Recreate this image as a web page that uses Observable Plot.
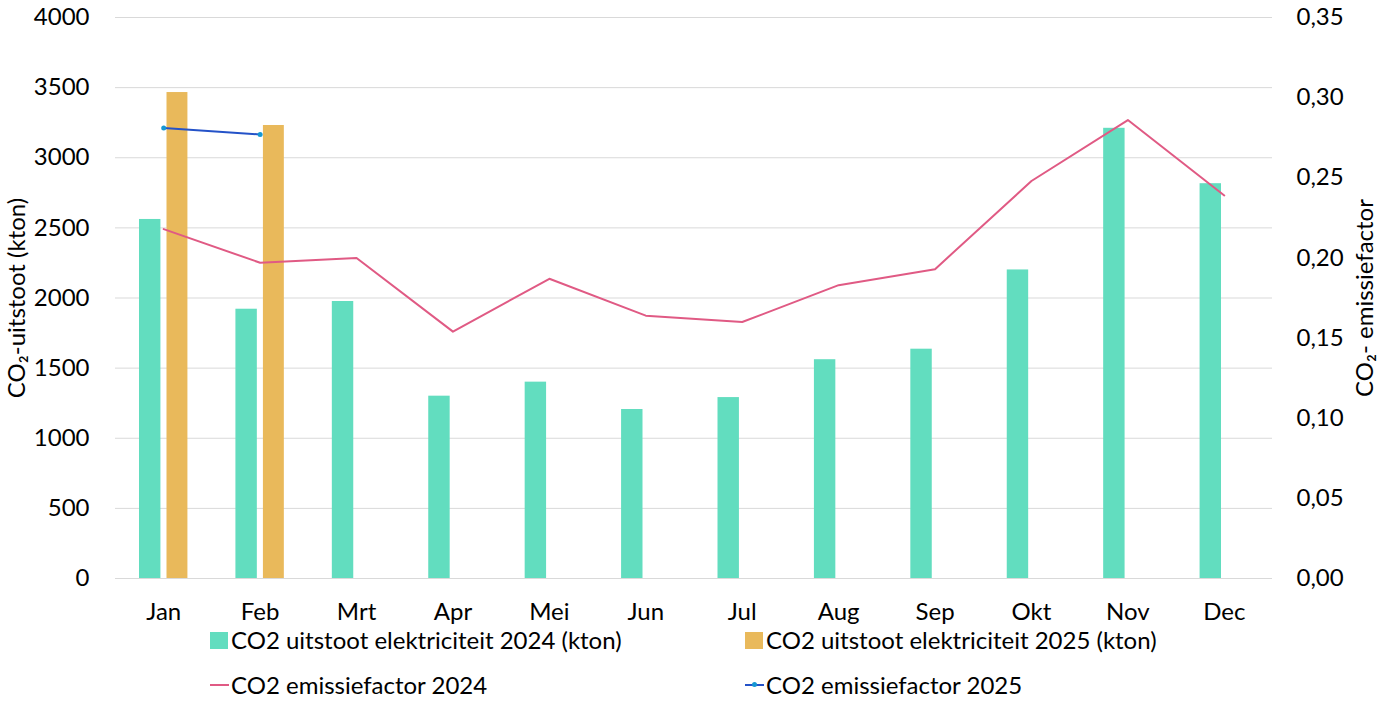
<!DOCTYPE html>
<html>
<head>
<meta charset="utf-8">
<script src="https://cdn.jsdelivr.net/npm/d3@7"></script>
<script src="https://cdn.jsdelivr.net/npm/@observablehq/plot@0.6"></script>
<style>
  html, body { margin: 0; padding: 0; background: #fff; }
  #wrap { position: relative; width: 1383px; height: 704px; font-family: Lato, "Open Sans", sans-serif; color: #000; }
  #chart { position: absolute; left: 0; top: 0; }
  .leg { position: absolute; font-size: 24px; line-height: 24px; white-space: nowrap; display: flex; align-items: center; }
  .sw { display: inline-block; width: 18px; height: 17px; margin-right: 3px; }
  .ln { display: inline-block; width: 19px; height: 2px; margin-right: 2px; position: relative; }
  .ln i { position: absolute; left: 7px; top: -2px; width: 5px; height: 5px; border-radius: 50%; background: #1597d3; }
</style>
</head>
<body>
<div id="wrap">
  <div id="chart"></div>
</div>
<script>
const months = ["Jan","Feb","Mrt","Apr","Mei","Jun","Jul","Aug","Sep","Okt","Nov","Dec"];
const uitstoot2024 = [2560, 1920, 1975, 1300, 1400, 1205, 1290, 1560, 1635, 2200, 3210, 2815];
const uitstoot2025 = [3465, 3230];
const factor2024 = [0.218, 0.197, 0.200, 0.154, 0.187, 0.164, 0.160, 0.183, 0.193, 0.248, 0.286, 0.239];
const factor2025 = [0.281, 0.277];
const leftTicks = [0, 500, 1000, 1500, 2000, 2500, 3000, 3500, 4000];
const rightTicks = [0, 0.05, 0.10, 0.15, 0.20, 0.25, 0.30, 0.35];
const seriesNames = ["CO2 uitstoot elektriciteit 2024 (kton)", "CO2 uitstoot elektriciteit 2025 (kton)", "CO2 emissiefactor 2024", "CO2 emissiefactor 2025"];
const leftTitle = "CO₂-uitstoot (kton)";
const rightTitle = "CO₂- emissiefactor";

const leftMax = 4000, rightMax = 0.35;
const k = leftMax / rightMax;

const bars24 = months.map((m, i) => ({m, v: uitstoot2024[i]}));
const bars25 = uitstoot2025.map((v, i) => ({m: months[i], v}));
const line24 = months.map((m, i) => ({m, v: factor2024[i]}));
const line25 = factor2025.map((v, i) => ({m: months[i], v}));

const colors = {g: "#62ddbf", o: "#e9b95b", p: "#e05a84", b: "#2452c8", bd: "#1597d3"};

const chart = Plot.plot({
  width: 1383,
  height: 630,
  marginTop: 17,
  marginBottom: 52,
  marginLeft: 115,
  marginRight: 111,
  style: {fontFamily: "Lato, 'Open Sans', sans-serif", fontSize: "24px", color: "#000", background: "#fff"},
  x: {domain: months, padding: 0, round: false, label: null},
  y: {domain: [0, leftMax], label: null},
  marks: [
    Plot.gridY(leftTicks, {stroke: "#d9d9d9", strokeOpacity: 1, strokeWidth: 1}),
    Plot.barY(bars24, {x: "m", y: "v", fill: colors.g, insetLeft: 24, insetRight: 51}),
    Plot.barY(bars25, {x: "m", y: "v", fill: colors.o, insetLeft: 51.5, insetRight: 24}),
    Plot.line(line24, {x: "m", y: d => d.v * k, stroke: colors.p, strokeWidth: 2}),
    Plot.line(line25, {x: "m", y: d => d.v * k, stroke: colors.b, strokeWidth: 2}),
    Plot.dot(line25, {x: "m", y: d => d.v * k, r: 2.5, fill: colors.bd}),
    Plot.axisX({tickSize: 0, tickPadding: 24, label: null, fontSize: 24}),
    Plot.axisY(leftTicks, {anchor: "left", tickSize: 0, tickPadding: 26, label: null, fontSize: 24, tickFormat: d3.format("d")}),
    Plot.axisY(rightTicks.map(v => v * k), {anchor: "right", tickSize: 0, tickPadding: 24, label: null, fontSize: 24,
      tickFormat: d => (d / k).toFixed(2).replace(".", ",")}),
    Plot.text([leftTitle], {frameAnchor: "left", textAnchor: "middle", dx: -98, rotate: -90, fontSize: 24, text: d => d}),
    Plot.text([rightTitle], {frameAnchor: "right", textAnchor: "middle", dx: 93, rotate: -90, fontSize: 24, text: d => d})
  ]
});
document.getElementById("chart").appendChild(chart);

const wrap = document.getElementById("wrap");
const legendItems = [
  {x: 210, y: 628, kind: "sw", color: colors.g, text: seriesNames[0]},
  {x: 745, y: 628, kind: "sw", color: colors.o, text: seriesNames[1]},
  {x: 210, y: 673, kind: "ln", color: colors.p, text: seriesNames[2]},
  {x: 745, y: 673, kind: "ln", color: colors.b, text: seriesNames[3], dot: true}
];
for (const it of legendItems) {
  const d = document.createElement("div");
  d.className = "leg";
  d.style.left = it.x + "px";
  d.style.top = it.y + "px";
  const s = document.createElement("span");
  s.className = it.kind;
  s.style.background = it.color;
  if (it.dot) s.appendChild(document.createElement("i"));
  d.appendChild(s);
  d.appendChild(document.createTextNode(it.text));
  wrap.appendChild(d);
}
</script>
</body>
</html>
